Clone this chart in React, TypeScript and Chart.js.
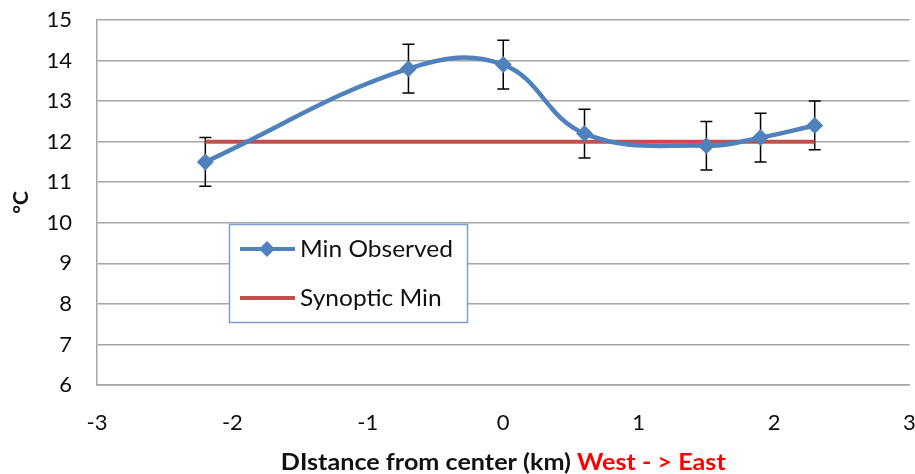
import React, { useEffect, useRef } from "react";
import { Chart, registerables } from "chart.js";

Chart.register(...registerables);

const distances = [-2.2, -0.7, 0, 0.6, 1.5, 1.9, 2.3];
const minObserved = [11.5, 13.8, 13.9, 12.2, 11.9, 12.1, 12.4];
const errorMargin = [0.6, 0.6, 0.6, 0.6, 0.6, 0.6, 0.6];
const synopticX = [-2.2, 2.3];
const synopticMin = [12, 12];
const xTickValues = [-3, -2, -1, 0, 1, 2, 3];
const yTickValues = [6, 7, 8, 9, 10, 11, 12, 13, 14, 15];
const seriesNames = ["Min Observed", "Synoptic Min"];
const xTitleMain = "DIstance from center (km)";
const xTitleDirection = "West - > East";
const yTitle = "°C";

const BLUE = "#4f81bd";
const RED = "#c0504d";
const GRID = "#a6a6a6";
const FONT = "Lato, 'Open Sans', sans-serif";

const errorBarsPlugin = {
  id: "errorBars",
  beforeDatasetsDraw(chart: any) {
    const { ctx, scales } = chart;
    const x = scales.x;
    const y = scales.y;
    ctx.save();
    ctx.strokeStyle = "#000";
    ctx.lineWidth = 1.5;
    distances.forEach((d, i) => {
      const px = x.getPixelForValue(d);
      const top = y.getPixelForValue(minObserved[i] + errorMargin[i]);
      const bot = y.getPixelForValue(minObserved[i] - errorMargin[i]);
      ctx.beginPath();
      ctx.moveTo(px, top);
      ctx.lineTo(px, bot);
      ctx.moveTo(px - 6, top);
      ctx.lineTo(px + 6, top);
      ctx.moveTo(px - 6, bot);
      ctx.lineTo(px + 6, bot);
      ctx.stroke();
    });
    ctx.restore();
  },
};

const legendPlugin = {
  id: "boxLegend",
  afterDraw(chart: any) {
    const { ctx } = chart;
    const bx = 229.5, by = 224.5, bw = 238, bh = 98;
    ctx.save();
    ctx.fillStyle = "#fff";
    ctx.fillRect(bx, by, bw, bh);
    ctx.strokeStyle = "#7f9fcf";
    ctx.lineWidth = 1.5;
    ctx.strokeRect(bx, by, bw, bh);
    const rows = [249, 298];
    const colors = [BLUE, RED];
    ctx.font = `23px ${FONT}`;
    const sx = 153 / ctx.measureText(seriesNames[0]).width;
    rows.forEach((ry, i) => {
      ctx.strokeStyle = colors[i];
      ctx.lineWidth = 4;
      ctx.beginPath();
      ctx.moveTo(240, ry);
      ctx.lineTo(295, ry);
      ctx.stroke();
      if (i === 0) {
        ctx.fillStyle = BLUE;
        ctx.beginPath();
        ctx.moveTo(267, ry - 8);
        ctx.lineTo(275, ry);
        ctx.lineTo(267, ry + 8);
        ctx.lineTo(259, ry);
        ctx.closePath();
        ctx.fill();
      }
      ctx.fillStyle = "#111";
      ctx.font = `23px ${FONT}`;
      ctx.textAlign = "left";
      ctx.textBaseline = "middle";
      ctx.save();
      ctx.translate(300, ry + 1);
      ctx.scale(sx, 1);
      ctx.fillText(seriesNames[i], 0, 0);
      ctx.restore();
    });
    ctx.restore();
  },
};

const xTitlePlugin = {
  id: "xTitle",
  afterDraw(chart: any) {
    const { ctx, chartArea } = chart;
    ctx.save();
    ctx.font = `bold 22px ${FONT}`;
    ctx.textBaseline = "middle";
    ctx.textAlign = "left";
    const part1 = xTitleMain + " ";
    const w1 = ctx.measureText(part1).width;
    const w2 = ctx.measureText(xTitleDirection).width;
    const targetW = 445;
    const sx = targetW / (w1 + w2);
    const cx = (chartArea.left + chartArea.right) / 2;
    const ty = chartArea.bottom + 78;
    ctx.translate(cx - targetW / 2, ty);
    ctx.scale(sx, 1);
    ctx.fillStyle = "#111";
    ctx.fillText(part1, 0, 0);
    ctx.fillStyle = "#ff0000";
    ctx.fillText(xTitleDirection, w1, 0);
    ctx.restore();
  },
};

export default function App() {
  const canvasRef = useRef<HTMLCanvasElement | null>(null);

  useEffect(() => {
    if (!canvasRef.current) return;
    const chart = new Chart(canvasRef.current, {
      type: "line",
      data: {
        datasets: [
          {
            label: seriesNames[0],
            data: distances.map((d, i) => ({ x: d, y: minObserved[i] })),
            borderColor: BLUE,
            backgroundColor: BLUE,
            borderWidth: 4.5,
            tension: 0.4,
            pointStyle: "rectRot",
            pointRadius: 8.5,
            pointBorderWidth: 0,
            pointBackgroundColor: BLUE,
            order: 1,
          },
          {
            label: seriesNames[1],
            data: synopticX.map((d, i) => ({ x: d, y: synopticMin[i] })),
            borderColor: RED,
            backgroundColor: RED,
            borderWidth: 4,
            pointRadius: 0,
            tension: 0,
            order: 2,
          },
        ],
      },
      options: {
        animation: false,
        responsive: false,
        devicePixelRatio: 1,
        layout: { padding: { top: 20, left: 0, right: 6, bottom: 0 } },
        plugins: {
          legend: { display: false },
          tooltip: { enabled: false },
        },
        scales: {
          x: {
            type: "linear",
            min: -3,
            max: 3,
            afterBuildTicks: (s: any) => {
              s.ticks = xTickValues.map((v) => ({ value: v }));
            },
            afterFit: (s: any) => {
              s.height = 89;
              s.paddingRight = 0;
              s.paddingLeft = 0;
            },
            grid: { display: false, drawTicks: false },
            border: { display: true, color: GRID, width: 1.5 },
            ticks: {
              padding: 25,
              color: "#0d0d0d",
              font: { family: FONT, size: 22 },
              maxRotation: 0,
            },
          },
          y: {
            type: "linear",
            min: 6,
            max: 15,
            afterBuildTicks: (s: any) => {
              s.ticks = yTickValues.map((v) => ({ value: v }));
            },
            afterFit: (s: any) => {
              s.width = 97;
              s.paddingTop = 0;
              s.paddingBottom = 0;
            },
            grid: { color: GRID, lineWidth: 1.5, drawTicks: false },
            border: { display: true, color: GRID, width: 1.5 },
            ticks: {
              padding: 25,
              color: "#0d0d0d",
              font: { family: FONT, size: 22 },
            },
            title: {
              display: true,
              text: yTitle,
              color: "#111",
              font: { family: FONT, size: 21, weight: "bold" },
              padding: { top: 9, bottom: 0 },
            },
          },
        },
      },
      plugins: [errorBarsPlugin, legendPlugin, xTitlePlugin],
    });
    return () => chart.destroy();
  }, []);

  return (
    <div
      style={{
        position: "absolute",
        left: 0,
        top: 0,
        width: 915,
        height: 474,
        overflow: "hidden",
        background: "#fff",
      }}
    >
      <canvas ref={canvasRef} width={918} height={474} />
    </div>
  );
}
